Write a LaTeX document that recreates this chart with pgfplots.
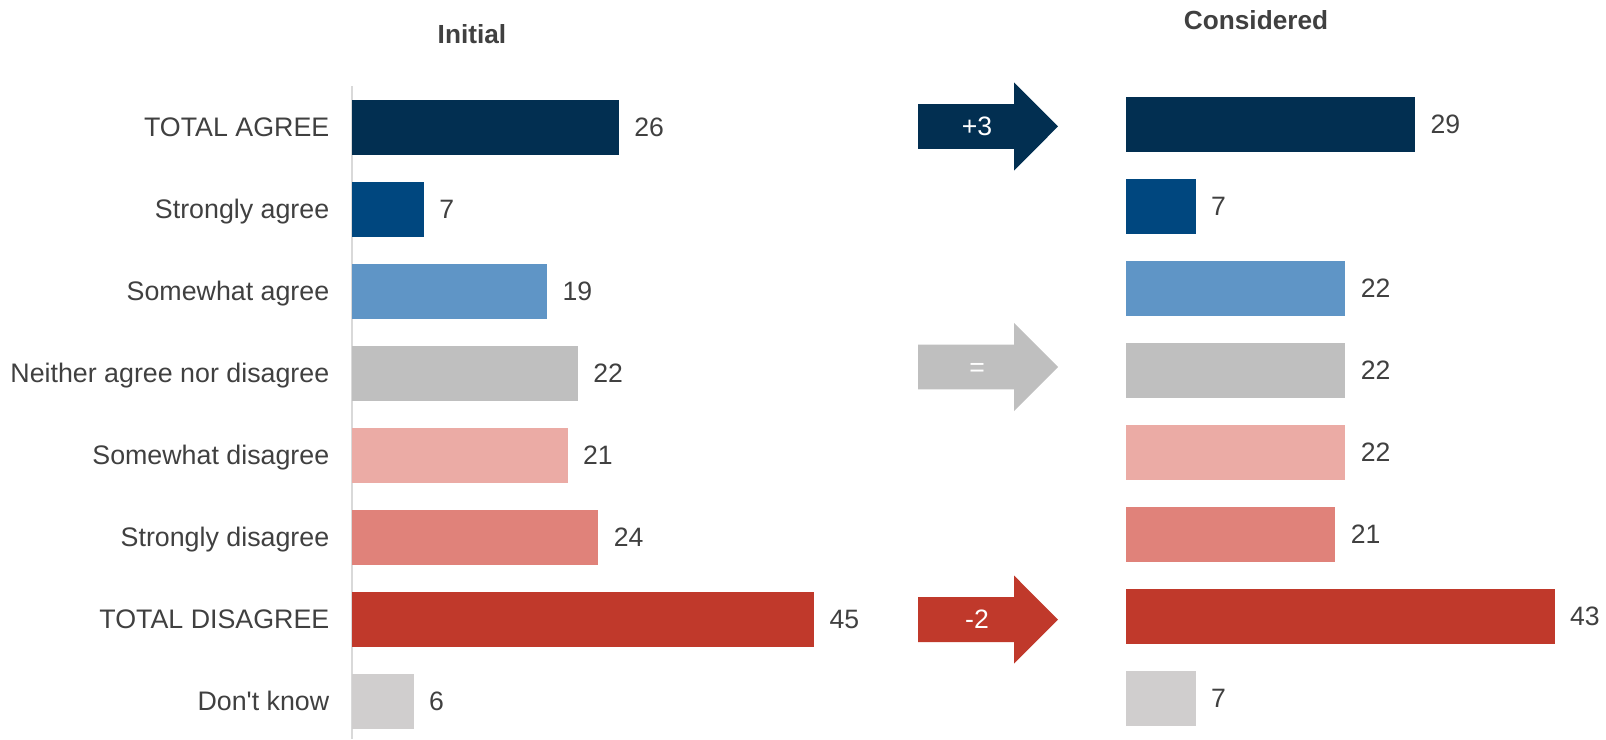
\documentclass[border=0pt]{standalone}
\usepackage{pgfplots}
\pgfplotsset{compat=1.18}
\usepackage{fontspec}
\setmainfont{Liberation Sans}[Ligatures=TeXOff]
\definecolor{cA}{HTML}{022F51}
\definecolor{cB}{HTML}{00477F}
\definecolor{cC}{HTML}{5F95C6}
\definecolor{cD}{HTML}{BFBFBF}
\definecolor{cE}{HTML}{EBABA5}
\definecolor{cF}{HTML}{E0827A}
\definecolor{cG}{HTML}{C0392B}
\definecolor{cH}{HTML}{D0CECE}
\definecolor{txt}{HTML}{404040}
\definecolor{lineg}{HTML}{D9D9D9}
\begin{document}
\fontsize{13.3}{16}\selectfont
\begin{tikzpicture}
\useasboundingbox (0,0) rectangle (803pt,-369.5pt);
\pgfplotsset{common/.style={
  xbar, scale only axis, y dir=reverse,
  ymin=-0.506, ymax=7.457, height=326.5pt,
  bar width=27.5pt, bar shift=0pt, clip=false,
  nodes near coords,
  nodes near coords style={anchor=base west, inner sep=0pt, xshift=7.5pt, yshift=-4.7pt, text=txt, font=\fontsize{13.3}{16}\selectfont},
  /pgf/number format/assume math mode=true,
}}
% Left: Initial
\begin{axis}[common, at={(176pt,-43pt)}, anchor=north west,
  width=256.75pt, xmin=0, xmax=50,
  hide x axis, axis y line*=left,
  y axis line style={draw=lineg, line width=1pt},
  ytick={0,1,2,3,4,5,6,7},
  yticklabels={TOTAL AGREE, Strongly agree, Somewhat agree, Neither agree nor disagree, Somewhat disagree, Strongly disagree, TOTAL DISAGREE, Don't know},
  ytick style={draw=none},
  yticklabel style={anchor=base east, inner sep=0pt, xshift=-6.9pt, yshift=-4.7pt, text=txt, font=\fontsize{13.4}{16}\selectfont},
]
\addplot[fill=cA, draw=none] coordinates {(26,0)};
\addplot[fill=cB, draw=none] coordinates {(7,1)};
\addplot[fill=cC, draw=none] coordinates {(19,2)};
\addplot[fill=cD, draw=none] coordinates {(22,3)};
\addplot[fill=cE, draw=none] coordinates {(21,4)};
\addplot[fill=cF, draw=none] coordinates {(24,5)};
\addplot[fill=cG, draw=none] coordinates {(45,6)};
\addplot[fill=cH, draw=none] coordinates {(6,7)};
\node[text=txt, font=\bfseries\fontsize{13.1}{16}\selectfont, anchor=center] at (axis cs:11.68,-1.134) {Initial};
\end{axis}
% Right: Considered
\begin{axis}[common, at={(563pt,-41.5pt)}, anchor=north west,
  width=239.3pt, xmin=0, xmax=48, hide axis,
]
\addplot[fill=cA, draw=none] coordinates {(29,0)};
\addplot[fill=cB, draw=none] coordinates {(7,1)};
\addplot[fill=cC, draw=none] coordinates {(22,2)};
\addplot[fill=cD, draw=none] coordinates {(22,3)};
\addplot[fill=cE, draw=none] coordinates {(22,4)};
\addplot[fill=cF, draw=none] coordinates {(21,5)};
\addplot[fill=cG, draw=none] coordinates {(43,6)};
\addplot[fill=cH, draw=none] coordinates {(7,7)};
\node[text=txt, font=\bfseries\fontsize{13.1}{16}\selectfont, anchor=center] at (axis cs:13.04,-1.274) {Considered};
% arrows
\fill[cA] (axis cs:-20.86,-0.250) -- (axis cs:-11.23,-0.250) -- (axis cs:-11.23,-0.513) -- (axis cs:-6.82,0.024) -- (axis cs:-11.23,0.561) -- (axis cs:-11.23,0.298) -- (axis cs:-20.86,0.298) -- cycle;
\node[anchor=base, inner sep=0pt, text=white, yshift=-4.7pt] at (axis cs:-14.94,0.024) {+3};
\fill[cD] (axis cs:-20.86,2.683) -- (axis cs:-11.23,2.683) -- (axis cs:-11.23,2.420) -- (axis cs:-6.82,2.957) -- (axis cs:-11.23,3.494) -- (axis cs:-11.23,3.231) -- (axis cs:-20.86,3.231) -- cycle;
\node[anchor=base, inner sep=0pt, text=white, yshift=-4.7pt] at (axis cs:-14.94,2.957) {=};
\fill[cG] (axis cs:-20.86,5.763) -- (axis cs:-11.23,5.763) -- (axis cs:-11.23,5.500) -- (axis cs:-6.82,6.037) -- (axis cs:-11.23,6.574) -- (axis cs:-11.23,6.311) -- (axis cs:-20.86,6.311) -- cycle;
\node[anchor=base, inner sep=0pt, text=white, yshift=-4.7pt] at (axis cs:-14.94,6.037) {-2};
\end{axis}
\end{tikzpicture}
\end{document}
